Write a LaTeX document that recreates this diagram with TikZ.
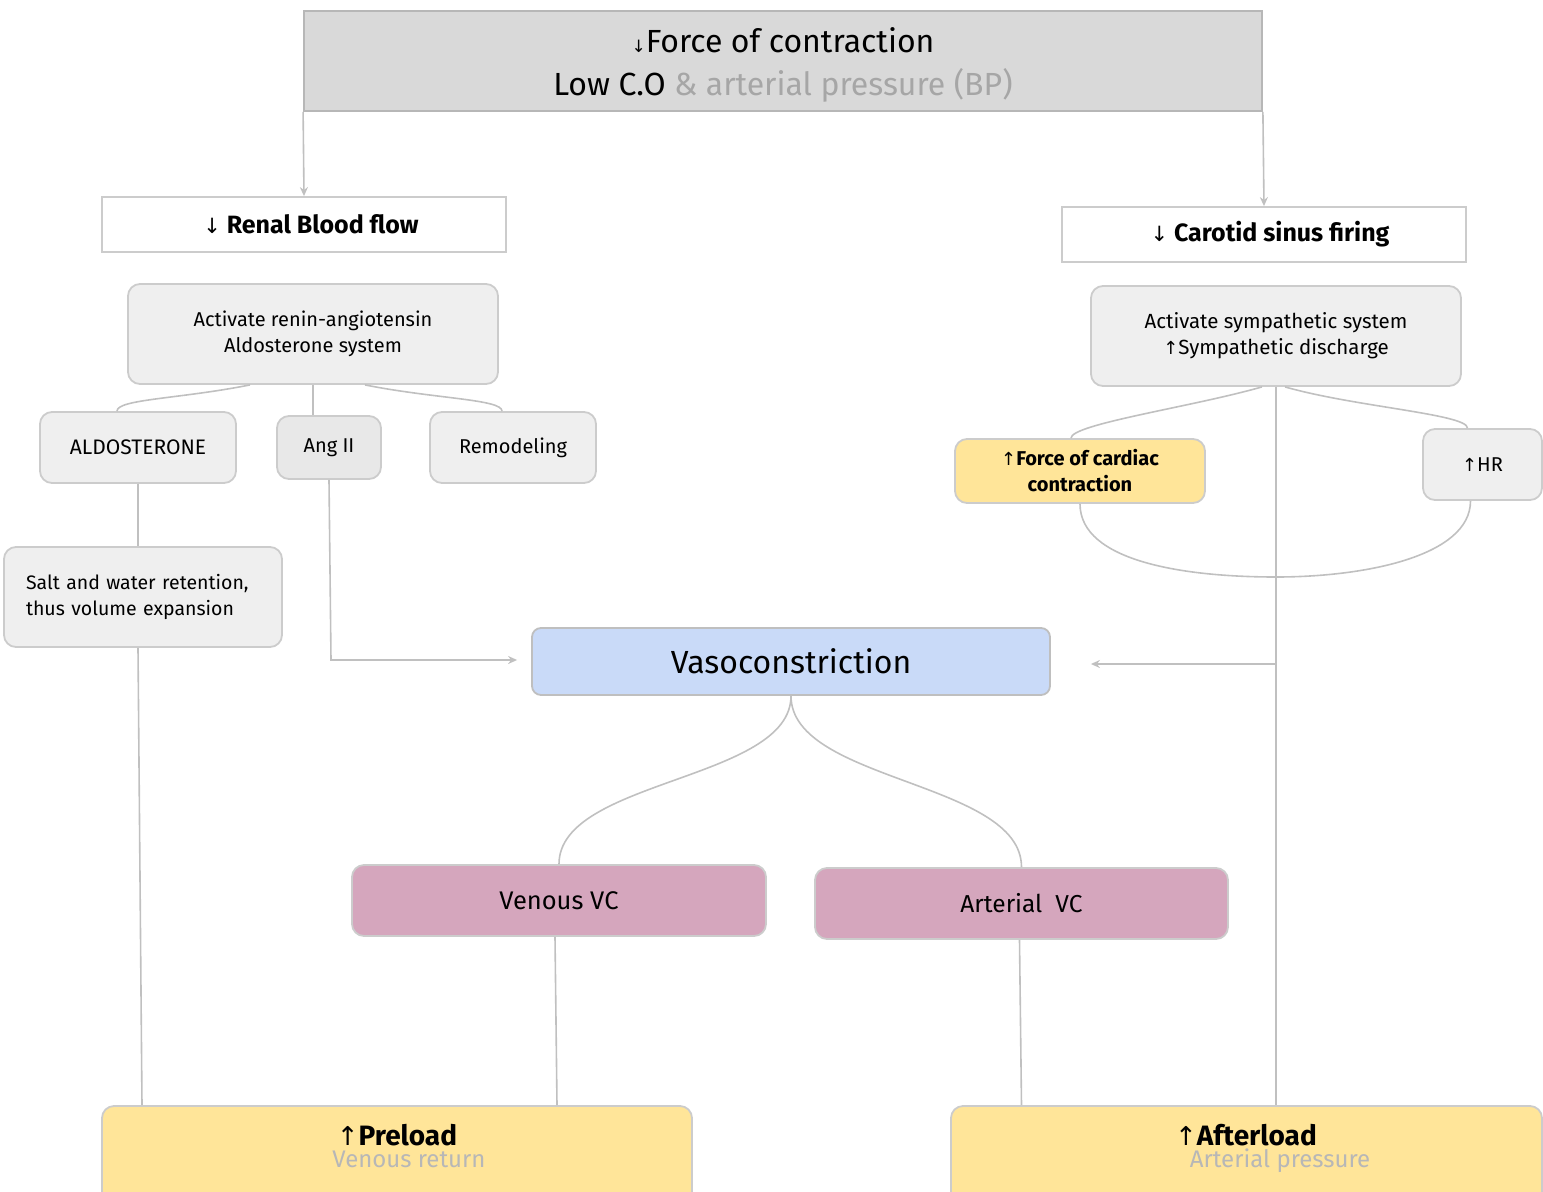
\documentclass[tikz,border=0pt]{standalone}
\usepackage{fontspec}
\setmainfont{Fira Sans}
\newfontfamily\arr{DejaVu Sans}
\usetikzlibrary{arrows.meta}
\definecolor{lg}{HTML}{EFEFEF}
\definecolor{bd}{HTML}{CCCCCC}
\definecolor{topfill}{HTML}{D9D9D9}
\definecolor{topbd}{HTML}{B7B7B7}
\definecolor{yel}{HTML}{FFE599}
\definecolor{blu}{HTML}{C9DAF8}
\definecolor{pnk}{HTML}{D5A6BD}
\definecolor{ln}{HTML}{C0C0C0}
\definecolor{gtxt}{HTML}{A6A6A6}
\definecolor{ltxt}{HTML}{B7B7B7}
\newcommand{\fs}[2]{\fontsize{#1}{#2}\selectfont}
\tikzset{
  box/.style={draw=bd, line width=1.8pt, rounded corners=12pt, fill=lg, inner sep=0pt, align=center},
  sqbox/.style={draw=bd, line width=1.8pt, fill=white, inner sep=0pt, align=center},
  conn/.style={draw=ln, line width=1.6pt},
  tip/.style={-{Stealth[length=9pt,width=8pt]}},
  txt/.style={inner sep=0pt, align=center},
}
\begin{document}
\begin{tikzpicture}[x=1pt,y=1pt]
\clip (0,0) rectangle (1543,-1192);
\useasboundingbox (0,0) rectangle (1543,-1192);
% nodes
\node[draw=topbd, line width=1.8pt, fill=topfill, minimum width=958pt, minimum height=100pt, inner sep=0pt] (top) at (783,-61) {};
\node[txt, font=\fs{32}{43}] (toptxt) at (783,-65)
  {{\arr\fs{17}{43}↓}Force of contraction\\Low C.O {\color{gtxt}\& arterial pressure (BP)}};
\node[sqbox, minimum width=404pt, minimum height=55pt, font=\fs{25}{26}\bfseries] (renal) at (304,-224.5) {\hspace*{14pt}{\arr\mdseries\fs{21}{26}↓} Renal Blood flow};
\node[sqbox, minimum width=404pt, minimum height=55pt, font=\fs{25}{26}\bfseries] (carotid) at (1264,-234.5) {\hspace*{12pt}{\arr\mdseries\fs{21}{26}↓} Carotid sinus firing};
\node[box, minimum width=370pt, minimum height=100pt, font=\fs{20}{26}] (raas) at (313,-334) {Activate renin-angiotensin\\Aldosterone system};
\node[box, minimum width=196pt, minimum height=71pt, font=\fs{21}{26}] (aldo) at (138,-447.5) {ALDOSTERONE};
\node[box, fill=black!9, minimum width=104pt, minimum height=63pt, font=\fs{20}{26}] (ang) at (329,-447.5) {Ang II};
\node[box, minimum width=166pt, minimum height=71pt, font=\fs{20}{26}] (remod) at (513,-447.5) {Remodeling};
\node[box, align=left, text width=234pt, inner xsep=22pt, minimum height=100pt, font=\fs{19.5}{26}] (salt) at (143,-597) {Salt and water retention,\\thus volume expansion};
\node[box, minimum width=370pt, minimum height=100pt, font=\fs{20.5}{26}] (symp) at (1276,-336) {Activate sympathetic system\\{\arr\fs{18}{26}↑}Sympathetic discharge};
\node[box, fill=yel, minimum width=250pt, minimum height=64pt, font=\fs{20}{26}\bfseries] (force) at (1080,-471) {{\arr\mdseries\fs{18}{26}↑}Force of cardiac\\contraction};
\node[box, minimum width=119pt, minimum height=71pt, font=\fs{20}{26}] (hr) at (1482.5,-464.5) {{\arr\fs{18}{26}↑}HR};
\node[box, fill=blu, draw=black!25, rounded corners=9pt, minimum width=518pt, minimum height=67pt, font=\fs{32}{36}] (vaso) at (791,-661.5) {Vasoconstriction};
\node[box, fill=pnk, minimum width=414pt, minimum height=71pt, font=\fs{25.5}{30}] (venous) at (559,-900.5) {Venous VC};
\node[box, fill=pnk, minimum width=413pt, minimum height=71pt, font=\fs{24.5}{30}] (arterial) at (1021.5,-903.5) {Arterial\ \ VC};
\node[box, fill=yel, minimum width=590pt, minimum height=104pt] (preload) at (397,-1158) {};
\node[box, fill=yel, minimum width=591pt, minimum height=104pt] (afterload) at (1246.5,-1158) {};
\node[txt, font=\fs{28}{30}\bfseries, anchor=base] (pl1) at (397,-1145) {{\arr\mdseries\fs{26}{30}↑}Preload};
\node[txt, font=\fs{24}{30}, text=ltxt, anchor=base] (pl2) at (409,-1167) {Venous return};
\node[txt, font=\fs{28}{30}\bfseries, anchor=base] (al1) at (1246,-1145) {{\arr\mdseries\fs{26}{30}↑}Afterload};
\node[txt, font=\fs{24}{30}, text=ltxt, anchor=base] (al2) at (1280,-1167) {Arterial pressure};
% connectors
\draw[conn,tip] (top.south west) -- (renal.north);
\draw[conn,tip] (top.south east) -- (carotid.north);
\draw[conn] ([xshift=-63pt]raas.south) .. controls +(-70,-14) and +(0,12) .. ([xshift=-21pt]aldo.north);
\draw[conn] (raas.south) -- (raas.south |- ang.north);
\draw[conn] ([xshift=52pt]raas.south) .. controls +(70,-14) and +(0,12) .. ([xshift=-11pt]remod.north);
\draw[conn] (aldo.south) -- (aldo.south |- salt.north);
\draw[conn] ([xshift=-5pt]salt.south) -- ([xshift=-255pt]preload.north);
\coordinate (ac) at (331,-660);
\draw[conn,tip] (ang.south) -- (ac) -- ([xshift=-14pt]vaso.west |- ac);
\draw[conn] ([xshift=-14pt]symp.south) .. controls +(-70,-20) and +(0,14) .. ([xshift=-9pt]force.north);
\draw[conn] ([xshift=9pt]symp.south) .. controls +(70,-20) and +(0,14) .. ([xshift=-15pt]hr.north);
\draw[conn] (symp.south) -- (symp.south |- afterload.north);
\coordinate (jm) at (1276,-577);
\draw[conn] (force.south) .. controls +(0,-58) and +(-90,0) .. (jm);
\draw[conn] ([xshift=-12pt]hr.south) .. controls +(0,-55) and +(90,0) .. (jm);
\coordinate (jr) at (1276,-664);
\draw[conn,tip] (jr) -- ([xshift=40pt]vaso.east |- jr);
\draw[conn] (vaso.south) .. controls +(0,-85) and +(0,85) .. (venous.north);
\draw[conn] (vaso.south) .. controls +(0,-86) and +(0,86) .. (arterial.north);
\draw[conn] ([xshift=-4pt]venous.south) -- ([xshift=160pt]preload.north);
\draw[conn] ([xshift=-2pt]arterial.south) -- ([xshift=-225pt]afterload.north);
\end{tikzpicture}
\end{document}
